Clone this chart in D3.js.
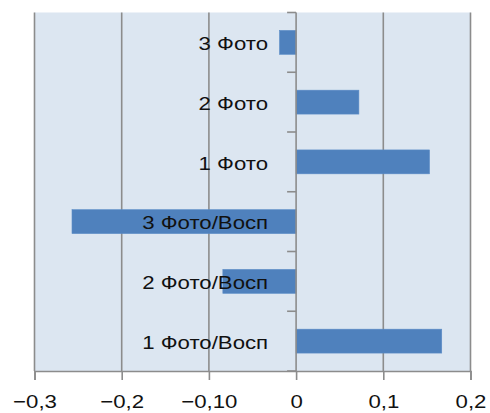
<!DOCTYPE html>
<html>
<head>
<meta charset="utf-8">
<script src="https://cdn.jsdelivr.net/npm/d3@7"></script>
<style>
  html, body { margin: 0; padding: 0; background: #fff; }
  svg { display: block; }
  text { font-family: "Liberation Sans", Arial, Helvetica, sans-serif; fill: #111; }
</style>
</head>
<body>
<svg id="chart" width="490" height="413"></svg>
<script>
// Categories from top to bottom
const categories = ["3 Фото", "2 Фото", "1 Фото", "3 Фото/Восп", "2 Фото/Восп", "1 Фото/Восп"];
const values = [-0.019, 0.072, 0.153, -0.257, -0.084, 0.167];
const tickValues = [-0.3, -0.2, -0.1, 0, 0.1, 0.2];
const tickLabels = ["\u22120,3", "\u22120,2", "\u22120,10", "0", "0,1", "0,2"];

const svg = d3.select("#chart");
const margin = { left: 34.5, right: 19.5, top: 12.5, bottom: 42 };
const W = 490, H = 413;
const stretch = 1.2;
const x = d3.scaleLinear().domain([-0.3, 0.2]).range([margin.left, W - margin.right]);
const y = d3.scaleBand().domain(categories).range([margin.top, H - margin.bottom]).paddingInner(0.6).paddingOuter(0.3);
const yEdges = d3.scaleLinear().domain([0, categories.length]).range([margin.top, H - margin.bottom]);

const gridColor = "#8c8c8c";

// plot background
svg.append("rect")
  .attr("x", x(-0.3)).attr("y", margin.top)
  .attr("width", x(0.2) - x(-0.3)).attr("height", H - margin.bottom - margin.top)
  .attr("fill", "#dce6f1");

// vertical gridlines
svg.append("g").selectAll("line").data(tickValues.filter(d => d !== 0)).join("line")
  .attr("x1", d => x(d)).attr("x2", d => x(d))
  .attr("y1", margin.top).attr("y2", H - margin.bottom)
  .attr("stroke", gridColor).attr("stroke-width", 1.6);

// bars
svg.append("g").selectAll("rect").data(categories).join("rect")
  .attr("x", (d, i) => x(Math.min(0, values[i])))
  .attr("y", d => y(d))
  .attr("width", (d, i) => Math.abs(x(values[i]) - x(0)))
  .attr("height", y.bandwidth())
  .attr("fill", "#4f81bd")
  .attr("stroke", "#5b8cc6").attr("stroke-width", 0.6);

// category axis at zero
const yAxisG = svg.append("g");
yAxisG.append("line")
  .attr("x1", x(0)).attr("x2", x(0))
  .attr("y1", margin.top).attr("y2", H - margin.bottom)
  .attr("stroke", gridColor).attr("stroke-width", 1.6);
yAxisG.selectAll("line.tick").data(d3.range(categories.length + 1)).join("line")
  .attr("class", "tick")
  .attr("x1", x(0) - 9).attr("x2", x(0))
  .attr("y1", d => yEdges(d)).attr("y2", d => yEdges(d))
  .attr("stroke", gridColor).attr("stroke-width", 1.6);

// category labels
svg.append("g").selectAll("text").data(categories).join("text")
  .attr("transform", d => `translate(${x(0) - 28},${y(d) + y.bandwidth() / 2}) scale(${stretch},1)`)
  .attr("dy", "0.42em")
  .attr("text-anchor", "end")
  .attr("font-size", 18.5)
  .text(d => d);

// x axis
const xAxis = d3.axisBottom(x).tickValues(tickValues)
  .tickFormat((d, i) => tickLabels[i]).tickSize(9).tickPadding(15);
const xg = svg.append("g").attr("transform", `translate(0,${H - margin.bottom})`).call(xAxis);
xg.select(".domain").attr("stroke", gridColor).attr("stroke-width", 1.6);
xg.selectAll(".tick line").attr("stroke", gridColor).attr("stroke-width", 1.6);
xg.selectAll(".tick text").attr("font-size", 18.5).attr("fill", "#111")
  .attr("font-family", '"Liberation Sans", Arial, sans-serif')
  .attr("transform", `scale(${stretch},1)`);
</script>
</body>
</html>
